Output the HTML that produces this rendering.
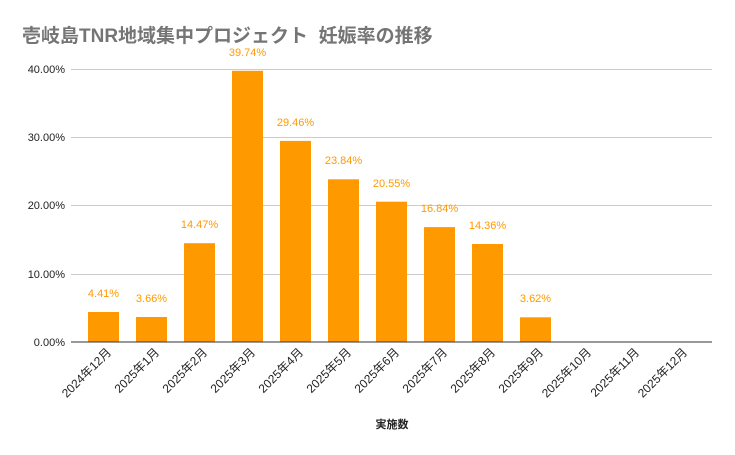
<!DOCTYPE html>
<html><head><meta charset="utf-8"><style>
body{margin:0;background:#fff}
svg{display:block;font-family:"Liberation Sans","Noto Sans CJK JP",sans-serif}
</style></head><body>
<svg width="735" height="455" viewBox="0 0 735 455">
<rect width="735" height="455" fill="#fff"/>
<text x="22" y="42" font-size="19" font-weight="bold" fill="#757575">壱岐島TNR地域集中プロジェクト&#160;&#160;妊娠率の推移</text>
<g stroke="#ccc" stroke-width="1">
<line x1="71" y1="69.5" x2="712" y2="69.5"/>
<line x1="71" y1="137.5" x2="712" y2="137.5"/>
<line x1="71" y1="205.5" x2="712" y2="205.5"/>
<line x1="71" y1="274.5" x2="712" y2="274.5"/>
</g>
<g font-size="11" fill="#222" text-anchor="end">
<text x="65" y="73">40.00%</text>
<text x="65" y="141">30.00%</text>
<text x="65" y="209">20.00%</text>
<text x="65" y="278">10.00%</text>
<text x="65" y="346">0.00%</text>
</g>
<g fill="#ff9900">
<rect x="88" y="312" width="31" height="30"/>
<rect x="136" y="317" width="31" height="25"/>
<rect x="184" y="243.2" width="31" height="98.8"/>
<rect x="232" y="70.8" width="31" height="271.2"/>
<rect x="280" y="140.9" width="31" height="201.1"/>
<rect x="328" y="179.3" width="31" height="162.7"/>
<rect x="376" y="201.7" width="31" height="140.3"/>
<rect x="424" y="227.1" width="31" height="114.9"/>
<rect x="472" y="244" width="31" height="98"/>
<rect x="520" y="317.3" width="31" height="24.7"/>
</g>
<g font-size="11" fill="#ff9900" text-anchor="middle">
<text x="103.5" y="297">4.41%</text>
<text x="151.5" y="302">3.66%</text>
<text x="199.5" y="228">14.47%</text>
<text x="247.5" y="56">39.74%</text>
<text x="295.5" y="126">29.46%</text>
<text x="343.5" y="164">23.84%</text>
<text x="391.5" y="187">20.55%</text>
<text x="439.5" y="212">16.84%</text>
<text x="487.5" y="229">14.36%</text>
<text x="535.5" y="302">3.62%</text>
</g>
<line x1="71" y1="342" x2="712" y2="342" stroke="#333" stroke-width="1"/>
<g font-size="12" fill="#222" text-anchor="end">
<text transform="translate(112,353) rotate(-45)">2024年12月</text>
<text transform="translate(160,353) rotate(-45)">2025年1月</text>
<text transform="translate(208,353) rotate(-45)">2025年2月</text>
<text transform="translate(256,353) rotate(-45)">2025年3月</text>
<text transform="translate(304,353) rotate(-45)">2025年4月</text>
<text transform="translate(352,353) rotate(-45)">2025年5月</text>
<text transform="translate(400,353) rotate(-45)">2025年6月</text>
<text transform="translate(448,353) rotate(-45)">2025年7月</text>
<text transform="translate(496,353) rotate(-45)">2025年8月</text>
<text transform="translate(544,353) rotate(-45)">2025年9月</text>
<text transform="translate(592,353) rotate(-45)">2025年10月</text>
<text transform="translate(640,353) rotate(-45)">2025年11月</text>
<text transform="translate(688,353) rotate(-45)">2025年12月</text>
</g>
<text x="392" y="428" font-size="11" font-weight="bold" fill="#222" text-anchor="middle">実施数</text>
</svg>
</body></html>
